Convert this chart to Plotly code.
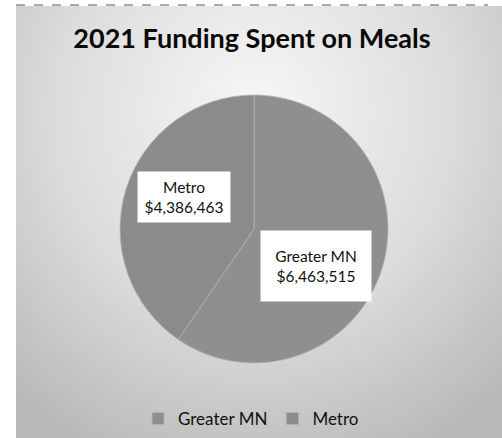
import numpy as np
import plotly.graph_objects as go

# Chart data
regions = ["Greater MN", "Metro"]
spent = [6463515, 4386463]
slice_colors = ["#8f8f8f", "#8b8b8b"]

W, H = 502, 438
LEFT, TOP = 16, 6          # chart area starts here (px)
FONT = "Lato"

# Soft radial backdrop for the chart area
gx = np.linspace(LEFT, W, 120)
gy = np.linspace(TOP, H, 110)
XX, YY = np.meshgrid(gx, gy)
dist = np.sqrt((XX - 255) ** 2 + ((YY - 110) / 1.05) ** 2)
shade = np.clip(dist / 360.0, 0, 1)

fig = go.Figure()
fig.add_trace(go.Heatmap(
    x=gx, y=gy, z=shade, zmin=0, zmax=1, zsmooth="best",
    colorscale=[[0, "#f7f7f7"], [0.55, "#dcdcdc"], [1, "#b9b9b9"]],
    showscale=False, hoverinfo="skip", showlegend=False,
))

cx, cy, r = 254, 229, 134
fig.add_trace(go.Pie(
    labels=regions, values=spent, sort=False, direction="clockwise", rotation=0,
    marker=dict(colors=slice_colors, line=dict(color="#b4b4b4", width=0.8)),
    textinfo="none", hoverinfo="label+value",
    domain=dict(x=[(cx - r) / W, (cx + r) / W], y=[1 - (cy + r) / H, 1 - (cy - r) / H]),
))

# White data-label boxes
boxes = [  # (center x, center y, width, height) in px
    (316, 266, 106, 66),
    (184, 197, 88, 46),
]
for name, val, (bx, by, bw, bh) in zip(regions, spent, boxes):
    fig.add_annotation(
        x=bx / W, y=1 - by / H, xref="paper", yref="paper",
        text=f"{name}<br>${val:,}", showarrow=False,
        width=bw, height=bh, bgcolor="white", borderpad=2,
        font=dict(family=FONT, size=15.5, color="#111111"), align="center",
    )

# Dashed frame line along the top edge
fig.add_shape(type="line", xref="paper", yref="paper",
              x0=LEFT / W, x1=488 / W, y0=1 - 5 / H, y1=1 - 5 / H,
              line=dict(color="#555555", width=1, dash="dash"))

fig.update_layout(
    width=W, height=H, margin=dict(l=0, r=0, t=0, b=0),
    paper_bgcolor="white", plot_bgcolor="rgba(0,0,0,0)",
    xaxis=dict(domain=[LEFT / W, 1], range=[LEFT, W], visible=False, fixedrange=True),
    yaxis=dict(domain=[0, 1 - TOP / H], range=[H, TOP], visible=False, fixedrange=True),
    title=dict(text="<b>2021 Funding Spent on Meals</b>", x=252 / W, xanchor="center",
               y=1 - 39 / H, yanchor="middle",
               font=dict(family=FONT, size=27, color="#0a0a0a")),
    legend=dict(orientation="h", x=0.5, xanchor="center", y=1 - 419 / H, yanchor="middle",
                font=dict(family=FONT, size=17, color="#111111"),
                bgcolor="rgba(0,0,0,0)", traceorder="normal"),
    showlegend=True,
)

fig.write_html("out.html")
